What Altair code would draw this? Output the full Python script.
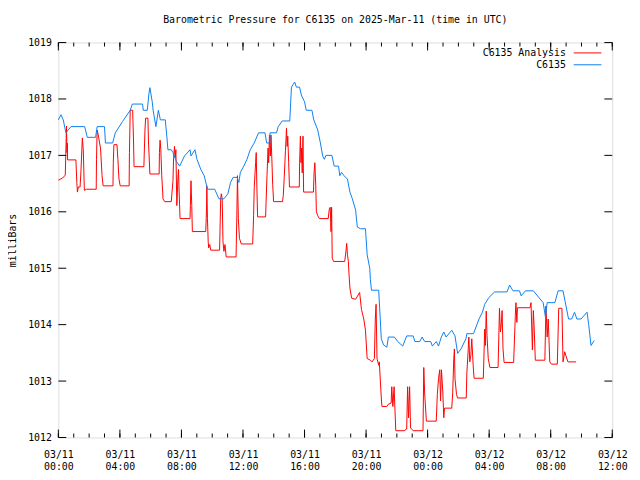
import altair as alt
import pandas as pd

# ---- data (hours since 2025-03-11 00:00 UTC, pressure in mbar) ----
obs_hours = [0.00,0.17,0.32,0.49,0.82,1.71,1.88,2.42,2.52,3.00,3.06,3.53,3.70,4.17,4.67,4.81,5.47,5.52,5.78,5.89,5.95,6.10,6.16,6.34,6.50,6.63,
             6.95,7.06,7.12,7.34,7.45,7.66,7.88,8.20,8.56,8.62,8.88,9.01,9.26,9.48,9.69,10.16,10.44,10.76,11.02,11.19,11.36,11.62,11.73,11.83,
             12.05,12.26,12.47,12.73,13.01,13.43,13.54,13.74,13.76,14.18,14.29,14.55,15.04,15.15,15.36,15.47,15.68,15.79,16.00,16.11,16.48,16.60,
             16.86,17.03,17.18,17.29,17.39,17.78,17.93,18.21,18.29,18.40,18.57,18.79,18.95,19.11,19.32,19.43,19.64,19.96,20.07,20.24,20.28,20.35,
             20.82,20.99,21.14,21.35,21.45,21.84,22.06,22.38,22.64,23.06,23.17,23.49,23.64,23.81,24.20,24.31,24.56,24.71,24.89,25.05,25.20,25.57,
             25.78,25.95,26.17,26.49,26.55,26.98,27.34,27.56,27.71,27.98,28.35,29.16,29.33,29.55,29.97,30.08,30.36,30.87,31.51,31.66,31.77,32.27,
             32.48,32.80,33.16,33.36,33.55,33.70,33.97,34.36,34.47,34.62,34.83]
obs_mbar = [1017.63,1017.72,1017.63,1017.40,1017.51,1017.51,1017.32,1017.32,1017.51,1017.51,1017.22,1017.22,1017.40,1017.60,1017.80,1017.91,1017.91,1017.80,1017.80,1018.10,1018.20,1017.95,1017.80,1017.51,1017.80,1017.63,
            1017.63,1017.31,1017.10,1017.10,1017.05,1016.90,1016.81,1016.99,1017.10,1016.99,1017.10,1016.93,1016.75,1016.64,1016.40,1016.40,1016.23,1016.23,1016.32,1016.52,1016.61,1016.61,1016.52,1016.70,
            1016.81,1016.93,1017.10,1017.22,1017.40,1017.40,1017.22,1017.22,1017.40,1017.40,1017.51,1017.61,1017.61,1018.21,1018.30,1018.21,1018.21,1018.07,1017.95,1017.80,1017.80,1017.63,
            1017.45,1017.22,1016.99,1016.93,1017.00,1017.00,1016.81,1016.81,1016.64,1016.70,1016.64,1016.58,1016.35,1016.23,1016.03,1015.73,1015.70,1015.70,1015.24,1015.00,1014.80,1014.61,
            1014.61,1013.75,1013.64,1013.60,1013.78,1013.78,1013.70,1013.62,1013.80,1013.80,1013.70,1013.70,1013.78,1013.70,1013.70,1013.62,1013.70,1013.62,1013.78,1013.87,1013.78,1013.90,
            1013.80,1013.49,1013.57,1013.75,1013.84,1013.84,1014.10,1014.22,1014.36,1014.48,1014.58,1014.58,1014.70,1014.60,1014.60,1014.51,1014.60,1014.60,1014.39,1014.13,1014.39,1014.39,
            1014.60,1014.60,1014.10,1014.10,1014.22,1014.10,1014.10,1014.22,1014.00,1013.63,1013.72]

ana_hours = [0.00,0.28,0.45,0.49,0.53,0.56,0.58,0.60,1.14,1.20,1.24,1.30,1.41,1.46,1.56,1.62,1.69,1.82,2.46,2.48,2.52,2.59,2.68,2.74,2.84,2.91,
             3.55,3.57,3.61,3.81,3.87,3.94,4.02,4.60,4.62,4.67,4.83,4.88,4.92,5.56,5.58,5.63,5.67,5.82,5.86,5.95,6.55,6.57,6.61,6.66,6.72,6.78,
             6.80,6.91,7.34,7.38,7.45,7.49,7.55,7.59,7.64,7.70,7.77,7.81,7.85,7.91,8.56,8.58,8.62,8.67,8.71,9.58,9.63,9.65,9.69,9.74,9.77,9.84,9.90,
             10.48,10.55,10.59,10.65,10.70,10.76,10.83,10.91,11.55,11.60,11.64,11.70,11.77,11.89,12.63,12.69,12.73,12.82,12.86,12.90,12.95,13.47,
             13.50,13.56,13.63,13.67,13.72,13.78,13.82,13.88,13.93,13.99,14.57,14.62,14.68,14.76,14.83,14.87,14.91,14.97,15.02,15.66,15.68,15.73,
             15.77,15.81,15.85,15.90,15.94,16.58,16.62,16.67,16.73,16.77,16.86,16.96,17.54,17.61,17.67,17.72,17.76,17.80,17.89,18.61,18.68,18.74,
             18.79,18.85,18.89,18.95,19.06,19.32,19.58,19.70,19.85,19.96,20.07,20.28,20.39,20.54,20.60,20.65,20.71,20.82,20.86,20.99,21.03,21.35,
             21.45,21.63,21.67,21.74,21.82,21.93,22.48,22.64,22.70,22.76,22.83,22.89,23.06,23.70,23.75,23.81,23.92,24.56,24.63,24.71,24.79,24.84,
             24.90,24.99,25.05,25.10,25.57,25.63,25.70,25.74,25.78,25.88,25.95,26.51,26.55,26.64,26.68,26.74,26.81,26.87,26.96,27.02,27.62,27.71,
             27.75,27.81,27.86,27.94,28.05,28.58,28.67,28.73,28.80,28.84,28.90,28.97,29.59,29.70,29.74,29.80,29.84,30.66,30.72,30.81,30.87,30.92,
             31.00,31.62,31.69,31.77,31.84,31.94,32.05,32.43,32.52,32.73,32.80,32.91,33.01,33.12,33.65]
ana_mbar = [1016.56,1016.60,1016.65,1017.10,1017.52,1017.05,1017.22,1016.92,1016.92,1016.52,1016.35,1016.44,1016.44,1016.67,1017.31,1017.10,1016.38,1016.40,1016.40,1016.93,1017.45,1017.37,1017.22,1017.13,1016.64,1016.46,
            1016.46,1016.86,1017.19,1017.19,1016.93,1016.58,1016.46,1016.46,1017.05,1017.80,1017.80,1017.31,1016.80,1016.80,1017.01,1017.45,1017.66,1017.66,1017.22,1016.67,1016.67,1017.05,1017.27,1017.10,1016.64,1016.35,
            1016.23,1016.18,1016.18,1016.32,1016.55,1016.96,1017.16,1016.96,1017.10,1016.11,1016.58,1016.75,1016.35,1015.88,1015.88,1016.11,1016.55,1016.11,1015.65,1015.65,1016.05,1016.46,1015.88,1015.47,1015.36,1015.42,1015.32,
            1015.32,1016.23,1016.32,1016.23,1015.47,1015.30,1015.42,1015.20,1015.20,1015.93,1016.64,1015.88,1015.53,1015.43,1015.43,1015.93,1016.43,1016.87,1017.05,1016.46,1015.91,1015.91,
            1016.17,1016.64,1017.13,1016.87,1017.36,1016.99,1017.36,1016.90,1016.49,1016.18,1016.18,1016.29,1016.61,1017.08,1017.48,1017.16,1017.34,1016.87,1016.44,1016.44,1016.87,1017.34,
            1016.87,1017.13,1016.69,1017.34,1016.35,1016.35,1016.69,1016.87,1016.46,1016.00,1015.93,1015.88,1015.88,1016.05,1016.08,1015.65,1016.08,1015.18,1015.12,1015.12,1015.27,1015.44,
            1015.24,1015.12,1014.90,1014.65,1014.47,1014.45,1014.57,1014.27,1014.10,1013.90,1013.40,1013.37,1013.34,1013.40,1014.10,1014.36,1013.40,1013.28,1013.34,1012.70,1012.55,1012.55,
            1012.59,1012.61,1012.90,1012.55,1012.90,1012.12,1012.12,1012.15,1012.90,1012.35,1012.90,1012.17,1012.12,1012.12,1013.24,1012.77,1012.29,1012.29,1012.76,1013.05,1013.20,1012.65,
            1013.20,1012.79,1012.35,1012.52,1012.52,1012.79,1013.40,1013.57,1013.04,1012.76,1012.70,1012.70,1013.14,1013.57,1013.78,1013.34,1013.46,1013.75,1013.28,1013.05,1013.05,1013.92,
            1013.63,1014.24,1013.81,1013.40,1013.24,1013.24,1014.29,1013.87,1014.04,1014.25,1013.57,1013.33,1013.33,1014.16,1014.39,1014.04,1014.30,1014.30,1014.39,1013.55,1014.25,1013.98,
            1013.37,1013.37,1014.33,1013.78,1014.10,1013.34,1013.30,1013.30,1014.29,1014.29,1013.34,1013.52,1013.43,1013.34,1013.34]

series_names = ["C6135 Analysis", "C6135"]
series_colors = ["#ff0000", "#0a80f0"]
y_ticks = [1012, 1013, 1014, 1015, 1016, 1017, 1018, 1019]
x_major_hours = [0, 4, 8, 12, 16, 20, 24, 28, 32, 36]
x_minor_hours = list(range(0, 37))

# ---- build tables ----
BASE = pd.Timestamp("2025-03-11T00:00:00Z").value // 10**6  # ms
HOUR = 3600 * 1000

def to_ms(hours):
    return [BASE + h * HOUR for h in hours]

obs_df = pd.DataFrame({"t": to_ms(obs_hours), "p": obs_mbar})
ana_df = pd.DataFrame({"t": to_ms(ana_hours), "p": ana_mbar})
major_df = pd.DataFrame({"t": to_ms(x_major_hours)})
minor_df = pd.DataFrame({"t": to_ms(x_minor_hours)})
ytick_df = pd.DataFrame({"p": y_ticks})

W, H = 561, 400
FONT = "DejaVu Sans Mono"

xscale = alt.Scale(type="utc", domain=[BASE, BASE + 36 * HOUR])
yscale = alt.Scale(domain=[1012, 1019], nice=False, zero=False)

x_axis = alt.Axis(
    values=to_ms(x_major_hours),
    labelExpr="[utcFormat(datum.value, '%m/%d'), utcFormat(datum.value, '%H:%M')]",
    grid=False, ticks=False, domain=False, title=None,
    labelFont=FONT, labelFontSize=10, labelColor="black",
    labelPadding=12, labelLineHeight=12, labelFlush=False, labelOverlap=False,
)
y_axis = alt.Axis(
    values=y_ticks, format="d", grid=False, ticks=False, domain=False,
    title="milliBars", titleFont=FONT, titleFontSize=10, titleFontWeight="normal",
    titleColor="black", titleX=-46, titleY=200, titleAngle=-90,
    titleAlign="center", titleBaseline="middle",
    labelFont=FONT, labelFontSize=10, labelColor="black", labelPadding=7,
)

X = lambda: alt.X("t:T", scale=xscale, axis=x_axis)
Y = lambda: alt.Y("p:Q", scale=yscale, axis=y_axis)

ana_line = alt.Chart(ana_df).mark_line(color=series_colors[0], strokeWidth=1).encode(x=X(), y=Y())
obs_line = alt.Chart(obs_df).mark_line(color=series_colors[1], strokeWidth=1).encode(x=X(), y=Y())

def xticks(df, y0, y1):
    return alt.Chart(df).mark_rule(color="black", strokeWidth=1).encode(
        x=X(), y=alt.value(y0), y2=alt.value(y1))

def yticks(x0, x1):
    return alt.Chart(ytick_df).mark_rule(color="black", strokeWidth=1).encode(
        y=Y(), x=alt.value(x0), x2=alt.value(x1))

tick_layers = [
    xticks(major_df, H, H - 8), xticks(minor_df, H, H - 4),
    xticks(major_df, 0, 8), xticks(minor_df, 0, 4),
    yticks(0, 8), yticks(W - 8, W),
]

legend_rows = []
for i, (name, col) in enumerate(zip(series_names, series_colors)):
    row_df = pd.DataFrame({"name": [name]})
    ypos = 10.5 + 12 * i
    legend_rows.append(
        alt.Chart(row_df).mark_text(
            align="right", baseline="middle", font=FONT, fontSize=10, color="black"
        ).encode(text="name:N", x=alt.value(514), y=alt.value(ypos))
    )
    legend_rows.append(
        alt.Chart(row_df).mark_rule(color=col, strokeWidth=1).encode(
            x=alt.value(522), x2=alt.value(550), y=alt.value(ypos))
    )

chart = alt.layer(ana_line, obs_line, *tick_layers, *legend_rows).properties(
    width=W, height=H,
    title=alt.TitleParams(
        "Barometric Pressure for C6135 on 2025-Mar-11 (time in UTC)",
        font=FONT, fontSize=10, fontWeight="normal", color="black", offset=13, anchor="middle",
    ),
    autosize=alt.AutoSizeParams(type="none"),
    padding={"left": 51, "top": 32, "right": 20, "bottom": 35},
).configure_view(stroke="black", strokeWidth=1).configure(background="white")

chart.save("out.html", embed_options={"renderer": "svg", "actions": False})
